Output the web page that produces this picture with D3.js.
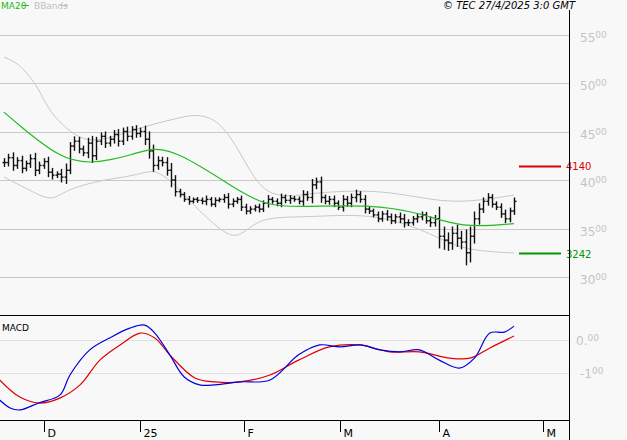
<!DOCTYPE html><html><head><meta charset="utf-8">
<script src="https://cdn.jsdelivr.net/npm/d3@7"></script>
<style>body{margin:0;background:#f8f8f8}svg{display:block;font-family:"DejaVu Sans",sans-serif}</style></head><body>
<svg id="c" width="627" height="440"></svg>
<script>
const closes=[4180,4230,4150,4200,4120,4170,4220,4100,4150,4190,
4080,4050,4060,4030,4100,4350,4400,4320,4280,4380,
4250,4400,4450,4380,4420,4470,4400,4500,4450,4520,
4480,4500,4420,4300,4150,4200,4180,4100,4000,3880,
3850,3800,3780,3800,3790,3780,3800,3750,3790,3800,
3820,3750,3780,3800,3720,3680,3700,3720,3700,3760,
3800,3780,3760,3820,3790,3810,3800,3780,3850,3820,
3950,3980,3820,3780,3800,3760,3720,3800,3760,3820,
3850,3800,3700,3680,3640,3600,3650,3620,3580,3620,
3600,3560,3560,3600,3620,3640,3580,3560,3600,3420,
3380,3350,3450,3400,3360,3250,3420,3600,3700,3780,
3820,3750,3720,3650,3600,3680,3780];
const spans=[90,80,110,70,100,60,90,120,80,70,100,90,60,110,140,80,100,90,70,110,150,90,80,100,70,90,110,80,100,70,
90,80,120,160,130,90,80,110,150,100,60,50,70,40,50,60,80,50,60,40,70,90,60,50,80,70,60,50,70,60,
90,50,60,80,60,70,50,60,90,70,120,90,110,60,70,80,60,90,70,80,100,70,90,60,50,70,60,80,70,60,
90,100,70,60,80,70,60,90,80,250,200,160,140,180,150,260,200,150,120,80,90,70,60,80,90,70,80];
const ma20=[[0,4700],[2,4620],[13,4206],[20,4175],[24,4206],[29,4258],[34,4340],[40,4280],[52,3930],[59,3740],[67,3720],[83,3750],[95,3660],[104,3505],[116,3550]];
const bbUp=[[0,5268],[4,5186],[8,4938],[10,4732],[13,4577],[18,4392],[24,4423],[32,4557],[39,4629],[43,4680],[48,4640],[52,4423],[56,4082],[60,3835],[67,3835],[70,3866],[85,3907],[98,3783],[106,3773],[116,3845]];
const bbLo=[[0,4031],[7,3866],[11,3783],[14,3897],[22,4000],[31,4052],[35,4134],[42,3794],[45,3660],[51,3412],[54,3433],[57,3557],[61,3619],[70,3619],[85,3660],[98,3433],[104,3278],[116,3247]];
const macd=[[-1,-182],[1.4,-206],[3.6,-212],[8,-190],[12.7,-167],[15,-106],[19.5,-30],[24,6],[28.6,36],[32,45],[34.3,21],[37.7,-45],[41,-112],[44.5,-136],[48,-136],[53.6,-127],[60.5,-121],[67,-45],[71.8,-15],[76.4,-21],[81,-15],[85.5,-30],[90,-36],[94.5,-30],[99,-61],[103.6,-85],[107,-55],[110.5,21],[113.8,24],[116,42]];
const signal=[[-1,-121],[3.6,-173],[8,-191],[12.7,-176],[17.3,-136],[21.8,-61],[26.4,-15],[31,21],[34.3,6],[37.7,-45],[43.4,-115],[48,-127],[53.6,-127],[60.5,-106],[67,-61],[74,-21],[81,-15],[87.7,-36],[94.5,-36],[101.4,-55],[106,-55],[110.5,-24],[116,12]];
const priceTicks=[3000,3500,4000,4500,5000,5500];
const macdTicks=[0,-100];
const months=[{i:9.2,l:"D"},{i:30.9,l:"25"},{i:54.5,l:"F"},{i:76.4,l:"M"},{i:99,l:"A"},{i:122.5,l:"M"}];
const markers=[{v:4140,c:"#dd0000"},{v:3242,c:"#009900"}];

const svg=d3.select("#c");
const x=d3.scaleLinear().domain([0,116]).range([4,514]);
const y=d3.scaleLinear().domain([3000,4000]).range([277,180]);
const ym=d3.scaleLinear().domain([-100,0]).range([373,340]);
const gx=v=>x(v[0]);
svg.selectAll(".g").data(priceTicks).join("line").attr("x1",0).attr("x2",569).attr("y1",d=>Math.round(y(d))+.5).attr("y2",d=>Math.round(y(d))+.5).attr("stroke","#c8c8c8");
svg.selectAll(".gm").data(macdTicks).join("line").attr("x1",0).attr("x2",569).attr("y1",d=>Math.round(ym(d))+.5).attr("y2",d=>Math.round(ym(d))+.5).attr("stroke","#e0e0e0");
const pl=svg.selectAll(".pl").data(priceTicks).join("text").attr("x",580).attr("y",d=>y(d)+7).attr("fill","#c4c4c4").attr("font-size",12);
pl.append("tspan").text(d=>String(d).slice(0,2));
pl.append("tspan").attr("font-size",9).attr("dy",-4).text(d=>String(d).slice(2));
const ml=svg.selectAll(".ml").data(macdTicks).join("text").attr("x",d=>d===0?576:580).attr("y",d=>ym(d)+5).attr("fill","#c4c4c4").attr("font-size",12);
ml.append("tspan").text(d=>d===0?"0.":"-1");
ml.append("tspan").attr("font-size",9).attr("dy",-4).text("00");
const ln=d3.line().x(gx).y(d=>y(d[1])).curve(d3.curveBasis);
[bbUp,bbLo].forEach(b=>svg.append("path").attr("d",ln(b)).attr("fill","none").attr("stroke","#c8c8c8"));
const bars=closes.map((c,i)=>{const o=i?closes[i-1]:c;const r=spans[i]/2;return{i,o,c,h:Math.max(o,c)+r,l:Math.min(o,c)-r};});
const bg=svg.append("g").attr("stroke","#111").attr("stroke-width",1.4);
bars.forEach(b=>{const xx=Math.round(x(b.i))+.5;
bg.append("line").attr("x1",xx).attr("x2",xx).attr("y1",y(b.h)).attr("y2",y(b.l));
bg.append("line").attr("x1",xx-2).attr("x2",xx).attr("y1",y(b.o)).attr("y2",y(b.o));
bg.append("line").attr("x1",xx).attr("x2",xx+2).attr("y1",y(b.c)).attr("y2",y(b.c));});
svg.append("path").attr("d",ln(ma20)).attr("fill","none").attr("stroke","#22bb22").attr("stroke-width",1.2);
markers.forEach(m=>{svg.append("line").attr("x1",519).attr("x2",561).attr("y1",y(m.v)).attr("y2",y(m.v)).attr("stroke",m.c).attr("stroke-width",2);
svg.append("text").attr("x",566).attr("y",y(m.v)+4).attr("fill",m.c).attr("font-size",10).text(m.v);});
const lm=d3.line().x(gx).y(d=>ym(d[1])).curve(d3.curveCatmullRom);
svg.append("path").attr("d",lm(signal)).attr("fill","none").attr("stroke","#dd0000").attr("stroke-width",1.2);
svg.append("path").attr("d",lm(macd)).attr("fill","none").attr("stroke","#0000dd").attr("stroke-width",1.2);
svg.append("line").attr("x1",0).attr("x2",569).attr("y1",315.5).attr("y2",315.5).attr("stroke","#000");
svg.append("line").attr("x1",569.5).attr("x2",569.5).attr("y1",10).attr("y2",440).attr("stroke","#000");
svg.append("line").attr("x1",0).attr("x2",569).attr("y1",420.5).attr("y2",420.5).attr("stroke","#000");
months.forEach(m=>{const xx=Math.round(x(m.i))+.5;svg.append("line").attr("x1",xx).attr("x2",xx).attr("y1",420).attr("y2",432).attr("stroke","#000");
svg.append("text").attr("x",xx+3).attr("y",437).attr("font-size",11).attr("fill","#000").text(m.l);});
svg.append("text").attr("x",2).attr("y",331).attr("font-size",9).text("MACD");
svg.append("text").attr("x",1).attr("y",9).attr("font-size",9).attr("fill","#22bb22").text("MA20");
svg.append("line").attr("x1",22).attr("x2",29).attr("y1",5.5).attr("y2",5.5).attr("stroke","#22bb22");
svg.append("text").attr("x",34).attr("y",9).attr("font-size",9).attr("fill","#c0c0c0").text("BBands");
svg.append("line").attr("x1",60).attr("x2",68).attr("y1",5.5).attr("y2",5.5).attr("stroke","#c0c0c0");
svg.append("text").attr("x",575).attr("y",9).attr("font-size",10).attr("font-style","italic").attr("text-anchor","end").text("© TEC 27/4/2025 3:0 GMT");
</script></body></html>
